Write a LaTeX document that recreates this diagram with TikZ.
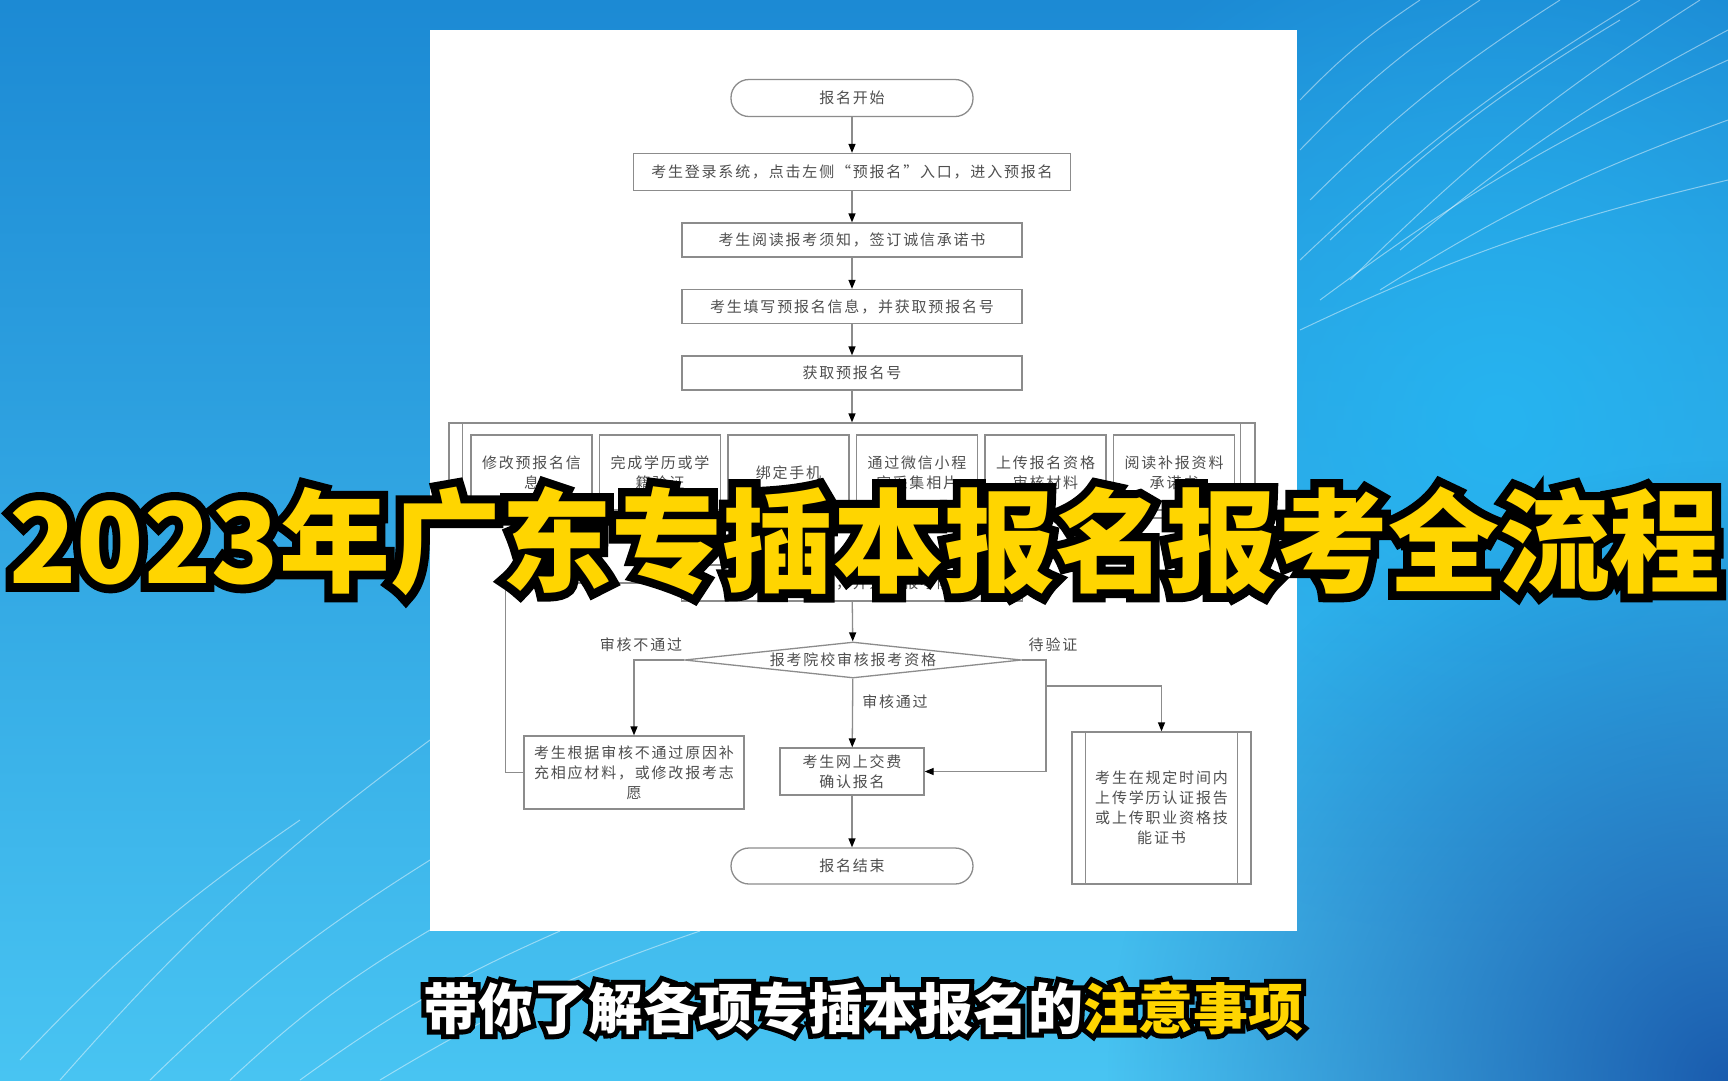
\documentclass[tikz,border=0pt]{standalone}
\usepackage{fontspec}
\usepackage{graphicx}
\usepackage{tikz}
\usetikzlibrary{shapes.geometric,arrows.meta,fadings}
\setmainfont{Noto Sans CJK SC}
\newfontfamily\flowfont{Noto Sans CJK SC}[LetterSpace=12]
\newfontfamily\bigfont{Noto Sans CJK SC}
\newfontfamily\bighalo{Noto Sans CJK SC}[FakeBold=15,BoldFeatures={FakeBold=15}]
\newfontfamily\subhalo{Noto Sans CJK SC}[FakeBold=18,BoldFeatures={FakeBold=18}]

\definecolor{linegray}{HTML}{8C8C8C}
\definecolor{textgray}{HTML}{4F4F4F}
\definecolor{titleyellow}{HTML}{FFD500}
\definecolor{bgtop}{HTML}{1C8AD4}
\definecolor{bgbot}{HTML}{48C4F2}
\definecolor{bgdeep}{HTML}{1A5CAE}
\definecolor{bglight}{HTML}{26B4F0}

\tikzfading[name=glow, inner color=transparent!0, outer color=transparent!100]

\begin{document}
\begin{tikzpicture}[x=1pt,y=-1pt,
    line/.style={draw=linegray,line width=1.3pt},
    arr/.style={line,-{Triangle[length=9pt,width=7pt,color=black]}},
    proc/.style={rectangle,draw=linegray,line width=1.3pt,fill=white,
      font=\flowfont\fontsize{15}{20}\selectfont,text=textgray,align=center,inner sep=0pt},
    term/.style={proc,rounded corners=18pt},
    lbl/.style={font=\flowfont\fontsize{15}{20}\selectfont,text=textgray}]

    % background
    \useasboundingbox (0,0) rectangle (1728,1080);
    \shade[top color=bgtop,bottom color=bgbot] (0,0) rectangle (1728,1080);
    \fill[bglight,path fading=glow] (1500,420) circle (520pt);
    \fill[bgdeep,path fading=glow] (1728,1080) circle (620pt);

    % streaks
    \foreach \a/\b/\c/\d in {1300/260/1640/0,1310/200/1560/0,1320/300/1728/60,
        1350/280/1700/0,1300/150/1480/0,1380/290/1728/120,1300/100/1420/0,
        1330/240/1620/20,1400/250/1728/30,1300/330/1728/180,
        60/1080/430/740,150/1080/430/860,230/1080/430/930,20/1060/300/820,
        300/1080/560/931,380/1080/700/931}
        \draw[white,opacity=.45,line width=1pt] (\a,\b) to[bend left=6] (\c,\d);

    % paper
    \fill[white] (430,30) rectangle (1297,931);

    % main steps
    \node[term,minimum width=242pt,minimum height=37pt] (start) at (852,98) {报名开始};
    \node[proc,minimum width=437pt,minimum height=37pt] (login) at (852,172)
        {考生登录系统，点击左侧“预报名”入口，进入预报名};
    \node[proc,minimum width=340pt,minimum height=34pt] (notice) at (852,240)
        {考生阅读报考须知，签订诚信承诺书};
    \node[proc,minimum width=340pt,minimum height=34pt] (prereg) at (852,306.5)
        {考生填写预报名信息，并获取预报名号};
    \node[proc,minimum width=340pt,minimum height=34pt] (getno) at (852,373) {获取预报名号};

    % sub steps
    \node[proc,minimum width=806pt,minimum height=95pt] (steps) at (852,470.5) {};
    \draw[line] ([xshift=14pt]steps.north west) -- ([xshift=14pt]steps.south west);
    \draw[line] ([xshift=-15pt]steps.north east) -- ([xshift=-15pt]steps.south east);
    \foreach \i/\t in {1/{修改预报名信\\息},2/{完成学历或学\\籍验证},3/{绑定手机},
        4/{通过微信小程\\序采集相片},5/{上传报名资格\\审核材料},6/{阅读补报资料\\承诺书}}
        \node[proc,minimum width=121pt,minimum height=75pt] (s\i) at (403+128.5*\i,472.5) {\t};

    \node[proc,minimum width=341pt,minimum height=36pt] (confirm) at (852,583)
        {确认报名信息，并选择报考院校};
    \node[proc,diamond,aspect=9.4,minimum width=337pt,minimum height=36pt] (check) at (853,660)
        {报考院校审核报考资格};

    % results
    \node[proc,minimum width=220pt,minimum height=73pt] (redo) at (634,772.5)
        {考生根据审核不通过原因补\\充相应材料，或修改报考志\\愿};
    \node[proc,minimum width=144pt,minimum height=47pt] (pay) at (852,771.5)
        {考生网上交费\\确认报名};
    \node[proc,minimum width=179pt,minimum height=152pt] (upload) at (1161.5,808)
        {考生在规定时间内\\上传学历认证报告\\或上传职业资格技\\能证书};
    \draw[line] ([xshift=14pt]upload.north west) -- ([xshift=14pt]upload.south west);
    \draw[line] ([xshift=-14pt]upload.north east) -- ([xshift=-14pt]upload.south east);
    \node[term,minimum width=242pt,minimum height=36pt] (finish) at (852,866) {报名结束};

    \node[lbl] (nopass) at (641,645) {审核不通过};
    \node[lbl] (wait) at (1053,645) {待验证};
    \node[lbl] (pass) at (895,702) {审核通过};

    % connectors
    \draw[arr] (start) -- (login);
    \draw[arr] (login) -- (notice);
    \draw[arr] (notice) -- (prereg);
    \draw[arr] (prereg) -- (getno);
    \draw[arr] (getno) -- (steps);
    \draw[arr] (steps) -- (confirm);
    \draw[arr] (confirm) -- (check);
    \draw[arr] (check.west) -| (redo.north);
    \draw[arr] (check) -- (pay);
    \coordinate (fork) at (1046,660);
    \coordinate (split) at (1046,686);
    \draw[arr] (check.east) -- (fork) |- (pay.east);
    \draw[arr] (split) -| (upload.north);
    \draw[arr] (pay) -- (finish);
    \draw[line] (redo.west) -- ++(-18,0) |- (confirm.west);

    % title
    \node[font=\bighalo\bfseries\fontsize{112}{112}\selectfont,text=black,inner sep=0pt] (titleback) at (865,541)
        {\scalebox{0.99}[1]{2023年广东专插本报名报考全流程}};
    \node[font=\bigfont\bfseries\fontsize{112}{112}\selectfont,text=titleyellow,inner sep=0pt] (title) at (865,541)
        {\scalebox{0.99}[1]{2023年广东专插本报名报考全流程}};

    % subtitle
    \node[font=\subhalo\bfseries\fontsize{55}{55}\selectfont,text=black] (subback) at (863,1008)
        {带你了解各项专插本报名的注意事项};
    \node[font=\bigfont\bfseries\fontsize{55}{55}\selectfont,text=white] (sub) at (863,1008)
        {带你了解各项专插本报名的\textcolor{titleyellow}{注意事项}};
\end{tikzpicture}
\end{document}
